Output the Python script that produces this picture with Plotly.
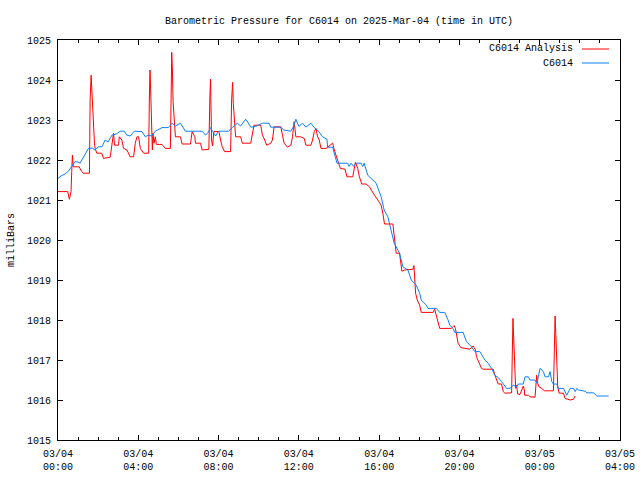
import datetime as dt
import plotly.graph_objects as go

# Time offsets in minutes from 2025-03-04 00:00 UTC
analysis_min = [0, 29, 34, 39, 41, 43, 46, 63, 71, 76, 94, 96, 99, 101, 103, 106, 109, 111, 116, 131,
                136, 156, 161, 166, 169, 181, 183, 191, 196, 206, 216, 226, 231, 236, 241, 246, 256, 271,
                273, 275, 277, 280, 282, 284, 287, 291, 294, 311, 321, 336, 338, 340, 342, 344, 351, 366,
                371, 396, 401, 409, 411, 426, 431, 451, 454, 456, 459, 462, 466, 481, 486, 491, 498, 516,
                519, 522, 524, 529, 531, 546, 551, 576, 581, 586, 606, 611, 616, 624, 636, 641, 646, 666,
                671, 676, 686, 696, 701, 706, 711, 726, 736, 741, 756, 761, 766, 771, 776, 781, 786, 801,
                806, 821, 826, 831, 836, 844, 858, 864, 881, 886, 889, 896, 901, 908, 921, 931, 936, 946,
                956, 966, 971, 976, 1001, 1004, 1008, 1011, 1021, 1024, 1028, 1036, 1056, 1061, 1064, 1066,
                1069, 1074, 1081, 1086, 1121, 1126, 1131, 1136, 1141, 1176, 1184, 1188, 1191, 1196, 1204,
                1231, 1241, 1248, 1251, 1258, 1266, 1271, 1301, 1306, 1316, 1326, 1331, 1336, 1356, 1358,
                1360, 1362, 1365, 1368, 1371, 1374, 1381, 1386, 1391, 1394, 1395, 1406, 1411, 1426, 1428,
                1431, 1434, 1438, 1446, 1454, 1481, 1484, 1486, 1488, 1491, 1494, 1498, 1511, 1516, 1526,
                1531, 1541, 1546]
analysis_mb = [1021.21, 1021.21, 1021.02, 1021.21, 1021.71, 1022.12, 1021.83, 1021.83, 1021.71, 1021.67,
               1021.67, 1023.5, 1024.12, 1023.71, 1023.5, 1022.87, 1022.42, 1022.29, 1022.17, 1022.17,
               1022.04, 1022.07, 1022.33, 1022.67, 1022.37, 1022.37, 1022.58, 1022.5, 1022.29, 1022.25,
               1022.08, 1022.08, 1022.42, 1022.58, 1022.58, 1022.29, 1022.17, 1022.17,
               1023.5, 1024.25, 1023.75, 1022.75, 1022.25, 1022.67, 1022.42, 1022.58, 1022.39, 1022.39,
               1022.29, 1022.29, 1023.46, 1024.69, 1024.25, 1023.46, 1022.58, 1022.58,
               1022.4, 1022.4, 1022.71, 1022.58, 1022.42, 1022.42, 1022.25, 1022.27, 1023.58, 1024.02,
               1022.5, 1022.35, 1022.71, 1022.71, 1022.5, 1022.33, 1022.21, 1022.21,
               1023.5, 1023.94, 1023.42, 1022.71, 1022.58, 1022.58, 1022.42, 1022.42, 1022.62, 1022.87,
               1022.87, 1022.62, 1022.54, 1022.37, 1022.42, 1022.5, 1022.83, 1022.83,
               1022.62, 1022.42, 1022.32, 1022.37, 1022.58, 1022.96, 1022.58, 1022.58, 1022.54, 1022.37,
               1022.37, 1022.5, 1022.71, 1022.79, 1022.58, 1022.5, 1022.29, 1022.29,
               1022.32, 1022.42, 1022.25, 1022.12, 1022.0, 1021.79, 1021.77, 1021.58, 1021.58, 1021.83,
               1021.94, 1021.79, 1021.58, 1021.4, 1021.4, 1021.33, 1021.25, 1021.12,
               1021.0, 1020.87, 1020.67, 1020.4, 1020.4, 1020.17, 1019.92, 1019.67, 1019.67, 1019.42,
               1019.22, 1019.25, 1019.27, 1019.27, 1019.36, 1019.0,
               1018.67, 1018.5, 1018.37, 1018.19, 1018.19, 1018.27, 1018.12, 1017.92, 1017.79, 1017.79,
               1017.86, 1017.79, 1017.62, 1017.42, 1017.31,
               1017.27, 1017.35, 1017.25, 1017.08, 1016.96, 1016.79, 1016.77, 1016.77, 1016.62, 1016.4,
               1016.4, 1016.21, 1016.17, 1016.18, 1017.12,
               1018.04, 1017.6, 1016.75, 1016.29, 1016.37, 1016.15, 1016.14, 1016.25, 1016.35, 1016.25,
               1016.12, 1016.12, 1016.08, 1016.07, 1016.29,
               1016.62, 1016.42, 1016.33, 1016.29, 1016.23, 1016.23, 1017.17, 1018.1, 1017.67, 1016.75,
               1016.32, 1016.17, 1016.17, 1016.04, 1016.02,
               1016.0, 1016.02, 1016.1]

station_min = [0, 9, 21, 31, 42, 51, 60, 66, 78, 91, 102, 111, 120, 131, 141, 150, 161, 174, 186, 198,
               206, 216, 228, 251, 261, 270, 279, 291, 311, 330, 341, 351, 366, 381, 431, 441, 450, 456,
               462, 471, 480, 510, 521, 536, 546, 561, 567, 576, 591, 611, 631, 636, 666, 675, 696, 705,
               711, 720, 731, 741, 756, 765, 780, 791, 804, 806, 821, 831, 834, 866, 870, 876, 884, 891,
               906, 911, 915, 926, 941, 951, 966, 975, 986, 996, 1005, 1021, 1031, 1046, 1056, 1071,
               1081, 1086, 1101, 1106, 1131, 1141, 1156, 1166, 1171, 1181, 1186, 1211, 1221, 1236, 1246,
               1261, 1276, 1286, 1296, 1306, 1316, 1326, 1341, 1351, 1361, 1371, 1376, 1391, 1396, 1406,
               1411, 1426, 1431, 1436, 1441, 1451, 1456, 1466, 1471, 1476, 1481, 1491, 1496, 1511, 1521,
               1531, 1541, 1546, 1551, 1556, 1576, 1581, 1601, 1611, 1646]
station_mb = [1021.54, 1021.6, 1021.65, 1021.72, 1021.85, 1021.96, 1021.95, 1021.92, 1022.1, 1022.29,
              1022.3, 1022.25, 1022.33, 1022.33, 1022.5, 1022.45, 1022.62, 1022.65, 1022.72, 1022.72,
              1022.62, 1022.6, 1022.72, 1022.71, 1022.58, 1022.62, 1022.6, 1022.72, 1022.81, 1022.81,
              1022.92, 1022.85, 1022.92, 1022.72, 1022.72, 1022.62, 1022.7, 1022.81,
              1022.72, 1022.6, 1022.72, 1022.72, 1022.81, 1022.92, 1022.85, 1023.02, 1022.95, 1022.82,
              1022.84, 1022.92, 1022.92, 1022.82, 1022.82, 1022.75, 1022.72, 1022.85,
              1023.02, 1022.84, 1022.92, 1022.82, 1022.92, 1022.82, 1022.71, 1022.58, 1022.52, 1022.32,
              1022.32, 1022.04, 1021.92, 1021.92, 1021.84, 1021.92, 1021.84, 1021.92,
              1021.92, 1021.84, 1021.92, 1021.62, 1021.5, 1021.42, 1021.08, 1020.75, 1020.58, 1020.25,
              1019.92, 1019.67, 1019.33, 1019.25, 1019.0, 1018.87,
              1018.67, 1018.5, 1018.37, 1018.29, 1018.29, 1018.19, 1018.19, 1018.0, 1017.87, 1017.79,
              1017.69, 1017.69, 1017.46, 1017.33, 1017.21,
              1017.21, 1017.0, 1016.92, 1016.79, 1016.62, 1016.56, 1016.46, 1016.29, 1016.29, 1016.37,
              1016.33, 1016.4, 1016.4, 1016.58, 1016.58,
              1016.5, 1016.5, 1016.42, 1016.58, 1016.79, 1016.71, 1016.58, 1016.58, 1016.71, 1016.46,
              1016.4, 1016.4, 1016.29, 1016.29, 1016.12,
              1016.29, 1016.29, 1016.21, 1016.29, 1016.25, 1016.22, 1016.18, 1016.18, 1016.1, 1016.1]

start = dt.datetime(2025, 3, 4, 0, 0)
end = dt.datetime(2025, 3, 5, 4, 0)
t_analysis = [start + dt.timedelta(minutes=m) for m in analysis_min]
t_station = [start + dt.timedelta(minutes=m) for m in station_min]

FONT = "Liberation Mono"
RED = "#ff0000"
BLUE = "#0a80ff"

fig = go.Figure()
fig.add_trace(go.Scatter(x=t_analysis, y=analysis_mb, mode="lines", name="C6014 Analysis",
                         line=dict(color=RED, width=1)))
fig.add_trace(go.Scatter(x=t_station, y=station_mb, mode="lines", name="C6014",
                         line=dict(color=BLUE, width=1)))

axis_common = dict(showline=True, linecolor="black", linewidth=1, mirror="allticks",
                   ticks="inside", tickcolor="black", showgrid=False, zeroline=False,
                   automargin=False)

fig.update_layout(
    width=640, height=480,
    margin=dict(l=58, r=20, t=40, b=40, autoexpand=False),
    paper_bgcolor="white", plot_bgcolor="white",
    font=dict(family=FONT, size=10, color="black"),
    showlegend=False,
    title=dict(text="Barometric Pressure for C6014 on 2025-Mar-04 (time in UTC)",
               xref="paper", x=0.5, xanchor="center", y=0.958, yanchor="middle",
               font=dict(family=FONT, size=10)),
    xaxis=dict(range=[start, end], type="date", tick0=start, dtick=4 * 3600 * 1000,
               tickformat="%m/%d<br>%H:%M", ticklen=5, ticklabelstandoff=4,
               minor=dict(dtick=3600 * 1000, ticks="inside", ticklen=3, tickcolor="black"),
               **axis_common),
    yaxis=dict(range=[1015, 1025], dtick=1, ticklen=5, ticklabelstandoff=4,
               title=dict(text="milliBars", standoff=10, font=dict(family=FONT, size=10)),
               **axis_common),
)

# Legend drawn gnuplot-style: text right-aligned, sample line to the right
fig.add_annotation(xref="paper", yref="paper", x=0.92, y=0.9775, text="C6014 Analysis",
                   showarrow=False, xanchor="right", yanchor="middle", font=dict(family=FONT, size=10))
fig.add_annotation(xref="paper", yref="paper", x=0.92, y=0.9425, text="C6014",
                   showarrow=False, xanchor="right", yanchor="middle", font=dict(family=FONT, size=10))
fig.add_shape(type="line", xref="paper", yref="paper", x0=0.9324, x1=0.9804, y0=0.9775, y1=0.9775,
              line=dict(color=RED, width=1))
fig.add_shape(type="line", xref="paper", yref="paper", x0=0.9324, x1=0.9804, y0=0.9425, y1=0.9425,
              line=dict(color=BLUE, width=1))

fig.write_html("out.html", config={"displayModeBar": False},
               post_script="document.body.style.margin='0';")
